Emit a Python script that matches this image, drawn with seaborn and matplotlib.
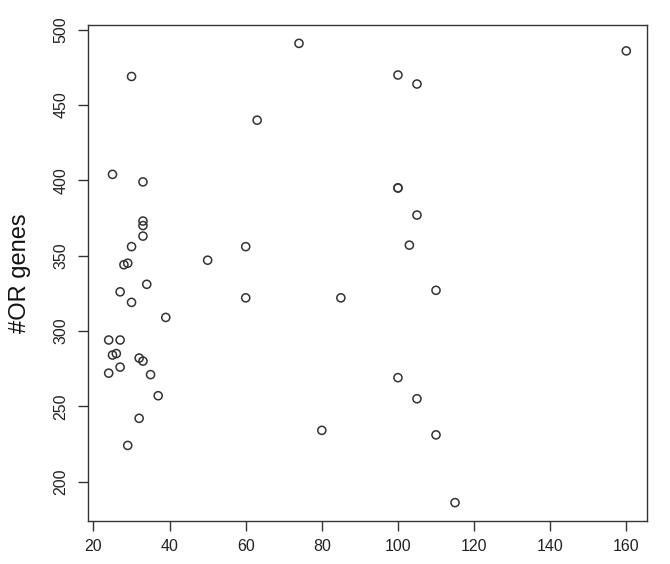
import pandas as pd
import seaborn as sns
import matplotlib
matplotlib.use('Agg')
import matplotlib.pyplot as plt

# values
x_vals = [74, 30, 63, 25, 33, 33, 33, 33, 30, 60, 50, 28, 29, 34,
          27, 30, 60, 39, 24, 27, 25, 26, 32, 33, 27, 24, 35, 37, 32, 29, 80,
          160, 100, 105, 100, 100, 105, 103, 110,
          85, 100, 105, 110, 115]
or_genes = [491, 469, 440, 404, 399, 373, 370, 363, 356, 356, 347, 344, 345, 331,
            326, 319, 322, 309, 294, 294, 284, 285, 282, 280, 276, 272, 271, 257, 242, 224, 234,
            486, 470, 464, 395, 395, 377, 357, 327,
            322, 269, 255, 231, 186]
x_ticks = [20, 40, 60, 80, 100, 120, 140, 160]
y_ticks = [200, 250, 300, 350, 400, 450, 500]

df = pd.DataFrame({'x': x_vals, 'OR': or_genes})

sns.set_style('ticks')
plt.rcParams['font.family'] = ['Liberation Sans', 'DejaVu Sans']

fig = plt.figure(figsize=(6.7, 5.64), dpi=100)
ax = fig.add_axes([88 / 670, 43 / 564, 559 / 670, 496 / 564])

sns.scatterplot(data=df, x='x', y='OR', ax=ax, marker='o', s=34,
                facecolor='none', edgecolor='#333333', linewidth=1.1)

# R style padding of 4% on each side
xr = max(x_vals) - min(x_vals)
yr = max(or_genes) - min(or_genes)
ax.set_xlim(min(x_vals) - 0.04 * xr, max(x_vals) + 0.04 * xr)
ax.set_ylim(min(or_genes) - 0.04 * yr, max(or_genes) + 0.04 * yr)

ax.set_xticks(x_ticks)
ax.set_yticks(y_ticks)
ax.tick_params(axis='both', length=7, width=1, color='#333333', labelsize=11.5, labelcolor='#222222')
ax.tick_params(axis='x', pad=6)
ax.tick_params(axis='y', pad=7, labelrotation=90)
for t in ax.get_yticklabels():
    t.set_va('center')

for s in ax.spines.values():
    s.set_visible(True)
    s.set_linewidth(1.0)
    s.set_color('#333333')

ax.set_xlabel('')
ax.set_ylabel('#OR genes', fontsize=17, color='#111111')
ax.yaxis.label.set_va('center')
ax.yaxis.set_label_coords(-0.121, 0.5)

fig.savefig('out.png', dpi=100)
